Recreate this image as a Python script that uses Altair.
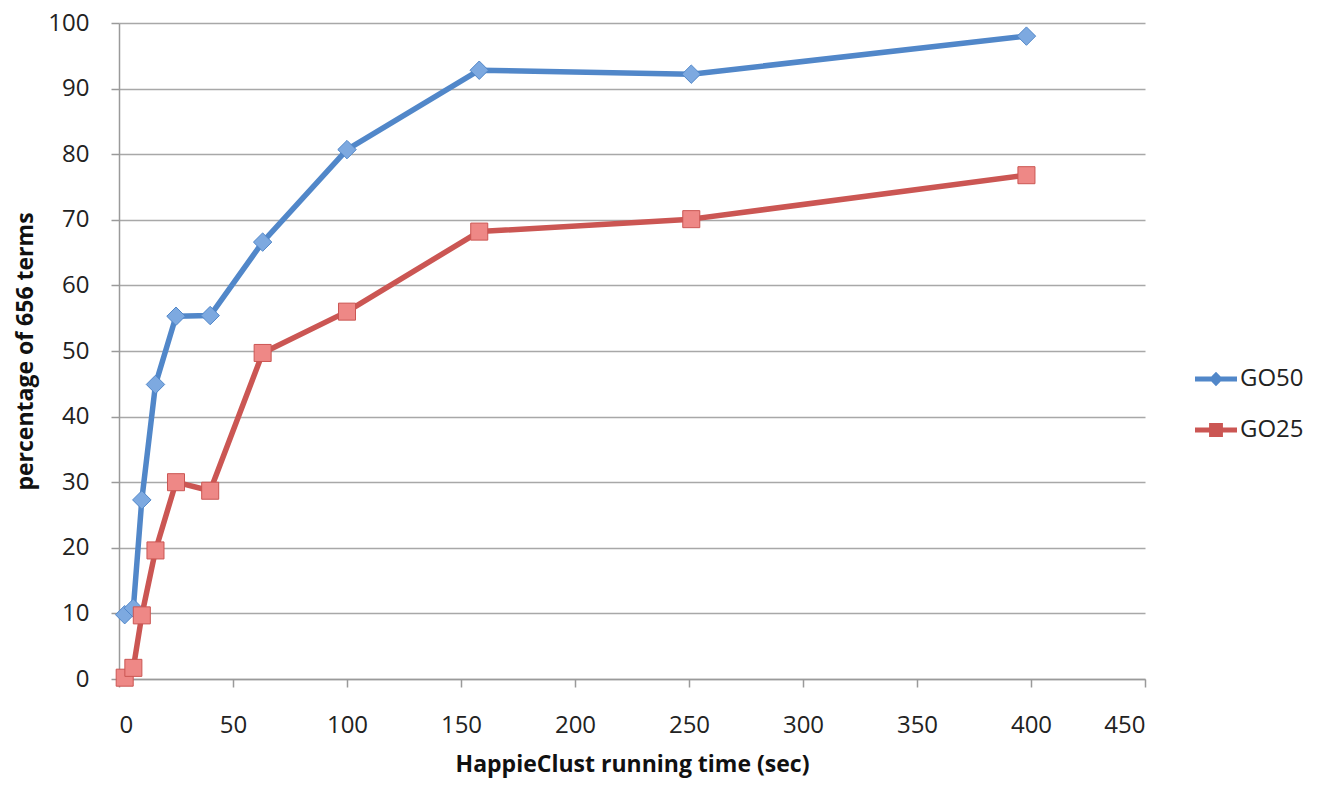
import altair as alt
import pandas as pd

# HappieClust running time (sec)
times = [2.5, 6.3, 10, 16, 25, 40, 63, 100, 158, 251, 398]
go50 = [9.8, 10.8, 27.3, 44.9, 55.3, 55.4, 66.6, 80.7, 92.8, 92.2, 98.0]
go25 = [0.2, 1.7, 9.7, 19.6, 30.0, 28.7, 49.7, 56.0, 68.2, 70.1, 76.8]
series_names = ["GO50", "GO25"]

line_colors = ["#5187C9", "#CB5653"]
marker_fills = ["#7DA9E0", "#EE8886"]

rows = []
for name, vals in zip(series_names, [go50, go25]):
    for t, v in zip(times, vals):
        rows.append({"series": name, "time": t, "pct": v})
df = pd.DataFrame(rows)

FONT = "Open Sans"

x_enc = alt.X("time:Q", scale=alt.Scale(domain=[0, 450], nice=False),
              axis=alt.Axis(title="HappieClust running time (sec)", values=list(range(0, 451, 50)),
                            grid=False, tickSize=8, labelPadding=26, titleY=85,
                            titleBaseline="middle"))
y_enc = alt.Y("pct:Q", scale=alt.Scale(domain=[0, 100], nice=False),
              axis=alt.Axis(title="percentage of 656 terms", values=list(range(0, 101, 10)),
                            grid=True, tickSize=8, labelPadding=22, titleX=-94, titleY=328,
                            titleAngle=270, titleAlign="center", titleBaseline="middle"))

base = alt.Chart(df)

lines = base.mark_line(strokeWidth=5.5, strokeJoin="round", strokeCap="round").encode(
    x=x_enc, y=y_enc,
    stroke=alt.Stroke("series:N", scale=alt.Scale(domain=series_names, range=line_colors), legend=None),
    detail="series:N",
)

points = base.mark_point(filled=True, opacity=1, strokeWidth=1).encode(
    x=x_enc, y=y_enc,
    shape=alt.Shape("series:N", scale=alt.Scale(domain=series_names, range=["diamond", "square"]), legend=None),
    fill=alt.Fill("series:N", scale=alt.Scale(domain=series_names, range=marker_fills), legend=None),
    stroke=alt.Stroke("series:N", scale=alt.Scale(domain=series_names, range=line_colors), legend=None),
    size=alt.Size("series:N", scale=alt.Scale(domain=series_names, range=[340, 290]), legend=None),
)

diamond_path = "M-1,-0.12L-0.22,-0.12L0,-0.34L0.22,-0.12L1,-0.12L1,0.12L0.22,0.12L0,0.34L-0.22,0.12L-1,0.12Z"
square_path = "M-1,-0.12L-0.33,-0.12L-0.33,-0.33L0.33,-0.33L0.33,-0.12L1,-0.12L1,0.12L0.33,0.12L0.33,0.33L-0.33,0.33L-0.33,0.12L-1,0.12Z"

legend_kwargs = dict(title=None, orient="none", legendX=1076, legendY=335, symbolSize=1764,
                     symbolStrokeWidth=0, labelFontSize=24, labelFont=FONT, labelColor="#222222",
                     labelOffset=3, rowPadding=18, padding=0)

legend_layer = base.mark_point(filled=True, opacity=1, size=1764).encode(
    x=x_enc, y=y_enc,
    shape=alt.Shape("series:N", scale=alt.Scale(domain=series_names, range=[diamond_path, square_path]),
                    legend=alt.Legend(**legend_kwargs)),
    fill=alt.Fill("series:N", scale=alt.Scale(domain=series_names, range=line_colors),
                  legend=alt.Legend(**legend_kwargs)),
).transform_filter("false")

chart = alt.layer(lines, points, legend_layer).resolve_scale(
    shape="independent", fill="independent", size="independent"
).properties(
    width=1026, height=656,
    autosize=alt.AutoSizeParams(type="none"),
    padding={"left": 111, "top": 15, "right": 160, "bottom": 99},
).configure_view(stroke=None).configure_axis(
    labelFont=FONT, labelFontSize=24, labelColor="#222222",
    titleFont=FONT, titleFontSize=23, titleFontWeight="bold", titleColor="#111111",
    domainColor="#9a9a9a", domainWidth=1.5, tickColor="#9a9a9a", tickWidth=1.5,
    gridColor="#a8a8a8", gridWidth=1.5,
)

chart.save("out.html", embed_options={"renderer": "svg", "actions": False})
